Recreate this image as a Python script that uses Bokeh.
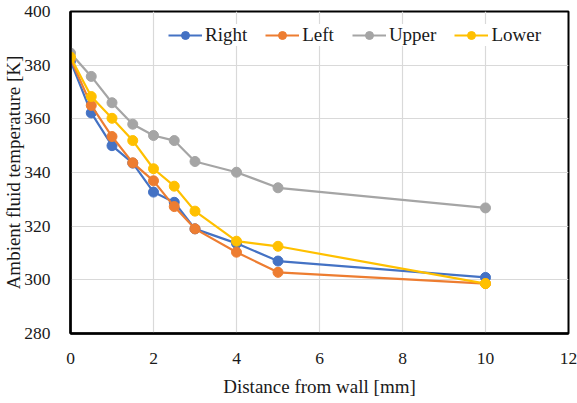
from bokeh.plotting import figure
from bokeh.embed import file_html
from bokeh.resources import INLINE
from bokeh.models import Range1d, FixedTicker

distance = [0, 0.5, 1, 1.5, 2, 2.5, 3, 4, 5, 10]
right = [381.5, 362.2, 350.0, 343.5, 332.7, 328.9, 319.0, 313.6, 307.0, 300.9]
left = [382.5, 365.0, 353.4, 343.6, 336.9, 327.3, 319.0, 310.3, 302.8, 298.6]
upper = [384.5, 375.8, 366.0, 358.0, 353.8, 351.9, 344.1, 340.1, 334.3, 326.8]
lower = [383.0, 368.3, 360.2, 351.9, 341.4, 334.9, 325.6, 314.4, 312.5, 298.6]

series = [("Right", right, "#4472C4"), ("Left", left, "#ED7D31"),
          ("Upper", upper, "#A5A5A5"), ("Lower", lower, "#FFC000")]

x_ticks = [0, 2, 4, 6, 8, 10, 12]
y_ticks = [280, 300, 320, 340, 360, 380, 400]

FONT = "Liberation Serif"

p = figure(width=577, height=403, output_backend="svg", toolbar_location=None,
           x_range=Range1d(0, 12), y_range=Range1d(280, 400),
           min_border_left=70, min_border_right=9, min_border_top=11, min_border_bottom=70)

for name, vals, col in series:
    p.line(distance, vals, line_color=col, line_width=2.2, legend_label=name)
    p.scatter(distance, vals, size=10, fill_color=col, line_color=col, legend_label=name)

p.outline_line_color = "black"
p.outline_line_width = 2
p.xgrid.grid_line_color = "#d9d9d9"
p.ygrid.grid_line_color = "#d9d9d9"
p.xgrid.grid_line_width = 1.2
p.ygrid.grid_line_width = 1.2

p.xaxis.ticker = FixedTicker(ticks=x_ticks)
p.yaxis.ticker = FixedTicker(ticks=y_ticks)
for ax in (p.xaxis[0], p.yaxis[0]):
    ax.axis_line_color = "black"
    ax.axis_line_width = 2.5
    ax.major_tick_line_color = None
    ax.minor_tick_line_color = None
    ax.major_label_text_font = FONT
    ax.major_label_text_font_size = "17.5px"
    ax.major_label_text_color = "#1a1a1a"
    ax.axis_label_text_font = FONT
    ax.axis_label_text_font_size = "19px"
    ax.axis_label_text_font_style = "normal"
    ax.axis_label_text_color = "#1a1a1a"

p.xaxis.major_label_standoff = 13
p.yaxis.major_label_standoff = 14
p.xaxis.axis_label = "Distance from wall [mm]"
p.yaxis.axis_label = "Ambient fluid temperature [K]"
p.xaxis.axis_label_standoff = 9
p.yaxis.axis_label_standoff = -3

p.legend.orientation = "horizontal"
p.legend.location = (98, 287)
p.legend.label_text_font = FONT
p.legend.label_text_font_size = "19px"
p.legend.label_text_color = "#1a1a1a"
p.legend.border_line_color = None
p.legend.background_fill_color = "white"
p.legend.background_fill_alpha = 1
p.legend.glyph_width = 34
p.legend.glyph_height = 20
p.legend.label_standoff = 3
p.legend.spacing = 18
p.legend.padding = 2
p.legend.margin = 0

open("out.html", "w").write(file_html(p, INLINE))
